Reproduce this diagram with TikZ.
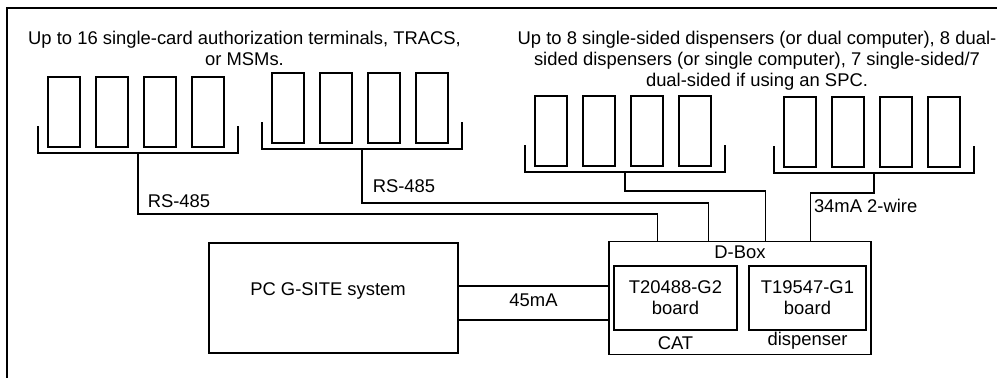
\documentclass[tikz,border=0pt]{standalone}
\usepackage{fontspec}
\setmainfont{Liberation Sans}
\usetikzlibrary{positioning}

\begin{document}
\begin{tikzpicture}[
    x=1pt, y=-1pt,
    line width=1.5pt,
    every node/.style={font=\fontsize{18.4}{21}\selectfont},
    term/.style={
        draw,
        minimum width=32pt,
        minimum height=70pt,
        inner sep=0pt
    },
    sysbox/.style={
        draw,
        minimum width=#1,
        minimum height=112pt,
        inner sep=0pt
    },
    board/.style={
        draw,
        align=center,
        minimum width=#1,
        minimum height=64pt,
        inner sep=0pt
    },
    heading/.style={align=center, inner sep=0pt},
    lbl/.style={inner sep=0pt}
]
\useasboundingbox (0,0) rectangle (997,378);

% === Frame ===
\draw (997,8) -- (7,8) -- (7,378);

% === Headings ===
\node[heading, anchor=north] (cardtxt) at (244.5,30) {Up to 16 single-card authorization terminals, TRACS,\\or MSMs.};
\node[heading, anchor=north] (disptxt) at (757,30) {Up to 8 single-sided dispensers (or dual computer), 8 dual-\\sided dispensers (or single computer), 7 single-sided/7\\dual-sided if using an SPC.};

% === Terminal groups ===
\foreach \g/\x/\y in {1/38/153, 2/262/149, 3/525/172, 4/774/173} {
    \foreach \i in {0,...,3}
        \node[term] (g\g-\i) at (\x+26+48*\i, \y-41) {};
    \draw (\x,\y-27) -- (\x,\y) -- (\x+200,\y) -- (\x+200,\y-27);
    \coordinate (g\g) at (\x+100,\y);
}

% === PC and D-Box ===
\node[sysbox=249pt, minimum height=110pt] (pc) at (333.5,298) {};
\node[lbl] (pctxt) at (328,291) {PC G-SITE system};
\node[sysbox=262pt, minimum height=113pt] (dbox) at (740,298) {};
\node[lbl, below=4pt of dbox.north] (dboxlbl) {D-Box};
\node[board=123pt] (cat) at (675.5,298) {T20488-G2\\board};
\node[board=117pt] (disp) at (807.5,298) {T19547-G1\\board};
\node[lbl, below=5pt of cat] (catlbl) {CAT};
\node[lbl, below=1pt of disp] (displbl) {dispenser};

% === Connectors ===
\draw ([yshift=12pt]pc.east) -- node[lbl, midway, below=7pt] (ma) {45mA} ([yshift=12pt]dbox.west);
\draw ([yshift=-22pt]pc.east) -- ([yshift=-22pt]dbox.west);
\draw (g1) -- ++(0,61) node[lbl, above right=6pt and 9pt] {RS-485} -| ([xshift=49pt]dbox.north west);
\draw (g2) -- ++(0,54) node[lbl, above right=10pt and 10pt] {RS-485} -| ([xshift=100pt]dbox.north west);
\draw (g3) -- ++(0,19) -| ([xshift=157pt]dbox.north west);
\draw (g4) -- ++(0,20) -| node[lbl, pos=0.5, below right=5pt and 3pt] {34mA 2-wire} ([xshift=202pt]dbox.north west);

\end{tikzpicture}
\end{document}
